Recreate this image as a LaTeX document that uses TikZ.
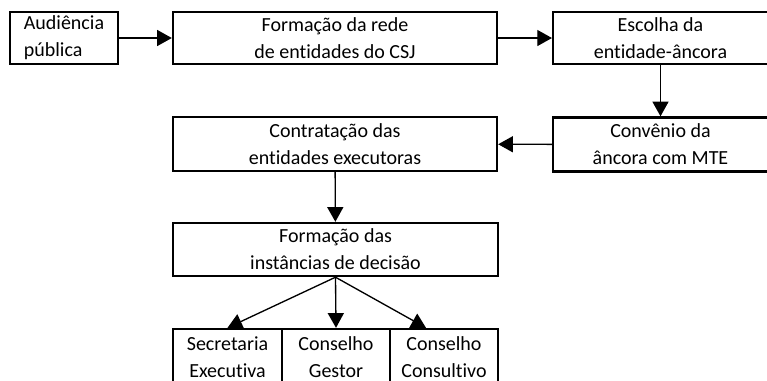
\documentclass[tikz,border=0pt]{standalone}
\usepackage{fontspec}
\setmainfont{Carlito}[Ligatures=NoCommon]
\usetikzlibrary{arrows.meta}
\tikzset{
  etapa/.style={draw, line width=1.8pt, inner sep=0pt, align=center, font=\fontsize{15}{20.3}\selectfont},
  seta/.style={line width=1pt, -{Triangle[length=11pt,width=12pt]}}
}

\begin{document}
\begin{tikzpicture}[x=0.75pt,y=-0.75pt]
        \clip (0,0) rectangle (767,380);
        
        \node[etapa, align=left, minimum width=81pt, minimum height=39pt] (aud) at (64,38) {Audiência\\pública} ;
        \node[etapa, minimum width=243pt, minimum height=39pt] (rede) at (335,38) {Formação da rede\\de entidades do CSJ} ;
        \node[etapa, minimum width=161pt, minimum height=39pt] (esc) at (660.5,38) {Escolha da\\entidade-âncora} ;
        \node[etapa, minimum width=161pt, minimum height=40.5pt] (conv) at (660.5,144.5) {Convênio da\\âncora com MTE} ;
        \node[etapa, minimum width=243pt, minimum height=40.5pt] (contr) at (335,144) {Contratação das\\entidades executoras} ;
        \node[etapa, minimum width=243.75pt, minimum height=39.75pt] (dec) at (335.5,249.5) {Formação das\\instâncias de decisão} ;
        \node[etapa, minimum width=81.75pt, minimum height=42pt] (sec) at (227.5,357) {Secretaria\\Executiva} ;
        \node[etapa, minimum width=81pt, minimum height=42pt] (ges) at (336,357) {Conselho\\Gestor} ;
        \node[etapa, minimum width=81pt, minimum height=42pt] (cons) at (444,357) {Conselho\\Consultivo} ;
        
        \draw[seta] (aud) -- (rede);
        \draw[seta] (rede) -- (esc);
        \draw[seta] (esc) -- (conv);
        \draw[seta] (conv) -- (contr);
        \draw[seta] (contr) -- (dec);
        \draw[seta] (dec.south) -- (sec.north);
        \draw[seta] (dec.south) -- (ges.north);
        \draw[seta] (dec.south) -- ([xshift=-13.5pt]cons.north);
        
\end{tikzpicture}
\end{document}
